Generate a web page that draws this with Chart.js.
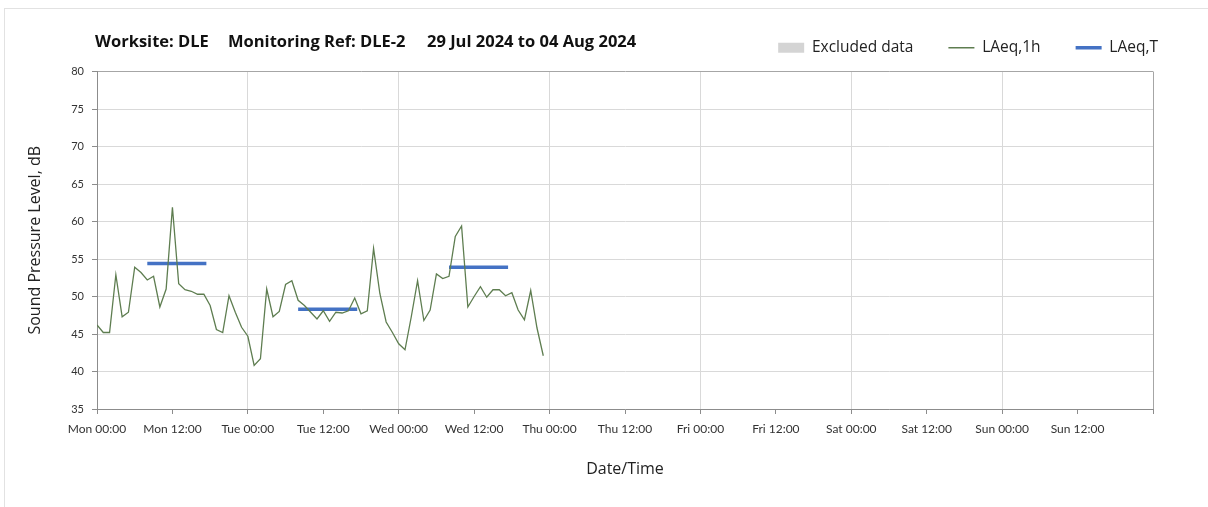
<!DOCTYPE html>
<html>
<head>
<meta charset="utf-8">
<script src="https://cdn.jsdelivr.net/npm/chart.js@4.4.1/dist/chart.umd.min.js"></script>
<style>
  html, body { margin: 0; padding: 0; background: #fff; overflow: hidden; }
  #frame { position: absolute; left: 4px; top: 8px; width: 1300px; height: 600px; border: 1px solid #e2e2e2; }
  #chart { position: absolute; left: 0; top: 0; }
</style>
</head>
<body>
<div id="frame"></div>
<canvas id="chart" width="1208" height="507"></canvas>
<script>
// hourly LAeq,1h from Mon 00:00 (hour 0) to Wed 23:00 (hour 71)
const laeq1h = [
  46.2, 45.2, 45.2, 52.9, 47.3, 47.9, 53.9, 53.2, 52.2, 52.7, 48.6, 51.0,
  61.9, 51.7, 50.9, 50.7, 50.3, 50.3, 48.8, 45.6, 45.2, 50.1, 47.9, 45.9,
  44.7, 40.8, 41.7, 51.0, 47.3, 48.0, 51.6, 52.1, 49.5, 48.8, 47.9, 47.0,
  48.1, 46.7, 47.9, 47.8, 48.1, 49.8, 47.7, 48.1, 56.4, 50.4, 46.6, 45.2,
  43.7, 42.9, 47.3, 52.1, 46.8, 48.2, 53.0, 52.4, 52.7, 58.0, 59.4, 48.6,
  50.0, 51.3, 49.9, 50.9, 50.9, 50.1, 50.5, 48.2, 46.9, 50.8, 45.8, 42.1
];

// LAeq,T daytime periods (hours from Mon 00:00)
const ltStart = [8, 32, 56];
const ltEnd = [17.4, 41.4, 65.4];
const ltValues = [54.4, 48.3, 53.9];

const xTickLabels = [
  "Mon 00:00", "Mon 12:00", "Tue 00:00", "Tue 12:00", "Wed 00:00", "Wed 12:00",
  "Thu 00:00", "Thu 12:00", "Fri 00:00", "Fri 12:00", "Sat 00:00", "Sat 12:00",
  "Sun 00:00", "Sun 12:00"
];
const titleParts = ["Worksite: DLE", "Monitoring Ref: DLE-2", "29 Jul 2024 to 04 Aug 2024"];

const FONT = "Lato, 'Open Sans', sans-serif";
const FONT2 = "'Open Sans', Lato, sans-serif";

let hourlyPoints = laeq1h.map((v, i) => ({ x: i, y: v }));
let ltPoints = [];
ltValues.forEach((v, i) => {
  ltPoints.push({ x: ltStart[i], y: v });
  ltPoints.push({ x: ltEnd[i], y: v });
  ltPoints.push({ x: ltEnd[i] + 1, y: null });
});

// title row drawn at the left of the legend row
const titlePlugin = {
  id: "titleRow",
  afterDraw(chart) {
    const c = chart.ctx;
    c.save();
    c.font = "bold 16.5px " + FONT2;
    c.fillStyle = "#111";
    c.textBaseline = "middle";
    const xs = [95, 228, 427];
    titleParts.forEach((t, i) => c.fillText(t, xs[i], 42));
    c.restore();
  }
};

// push the legend to the right and up so it sits on the title row
const legendPlace = {
  id: "legendPlace",
  afterLayout(chart) {
    const lg = chart.legend;
    const w = lg.right - lg.left;
    lg.right = 1193;
    lg.left = lg.right - w;
    const h = lg.bottom - lg.top;
    lg.top = lg.top - 6;
    lg.bottom = lg.top + h;
  }
};

const axisGrey = "#8c8c8c";
const gridGrey = "#d9d9d9";

let chart = new Chart(document.getElementById("chart").getContext("2d"), {
  type: "line",
  data: {
    datasets: [
      {
        label: "Excluded data",
        data: [],
        backgroundColor: "#d4d4d4",
        borderColor: "#d4d4d4",
        borderWidth: 0
      },
      {
        label: "LAeq,1h",
        data: hourlyPoints,
        borderColor: "#5e7d50",
        borderWidth: 1.3,
        pointRadius: 0,
        tension: 0,
        fill: false
      },
      {
        label: "LAeq,T",
        data: ltPoints,
        borderColor: "#4472c4",
        borderWidth: 3.5,
        pointRadius: 0,
        spanGaps: false,
        fill: false
      }
    ]
  },
  options: {
    responsive: false,
    animation: false,
    layout: { padding: { left: 5, right: 55, top: 11, bottom: 0 } },
    plugins: {
      tooltip: { enabled: false },
      legend: {
        position: "top",
        align: "end",
        labels: {
          usePointStyle: true,
          pointStyleWidth: 26,
          boxHeight: 10,
          padding: 35,
          color: "#222",
          font: { family: FONT2, size: 15.5 },
          generateLabels(chart) {
            return chart.data.datasets.map((ds, i) => ({
              text: ds.label,
              datasetIndex: i,
              fillStyle: ds.backgroundColor || ds.borderColor,
              strokeStyle: ds.borderColor,
              lineWidth: i === 0 ? 0 : ds.borderWidth,
              pointStyle: i === 0 ? "rect" : "line",
              fontColor: "#222",
              hidden: false
            }));
          }
        }
      }
    },
    scales: {
      x: {
        type: "linear",
        min: 0,
        max: 168,
        afterBuildTicks(scale) {
          let t = [];
          for (let v = 0; v <= 168; v += 12) t.push({ value: v });
          scale.ticks = t;
        },
        afterFit(scale) { scale.height = 98; },
        ticks: {
          autoSkip: false,
          maxRotation: 0,
          padding: 8,
          color: "#333",
          font: { family: FONT, size: 12 },
          callback: (v, i) => xTickLabels[i] || ""
        },
        grid: {
          color: (ctx) => {
            const v = ctx.tick ? ctx.tick.value : 0;
            if (v === 168) return "#a6a6a6";
            return v % 24 === 0 ? gridGrey : "rgba(0,0,0,0)";
          },
          tickColor: axisGrey,
          tickLength: 5,
          lineWidth: 1
        },
        border: { color: axisGrey },
        title: {
          display: true,
          text: "Date/Time",
          color: "#222",
          font: { family: FONT2, size: 16 },
          padding: { top: 4, bottom: 28 }
        }
      },
      y: {
        min: 35,
        max: 80,
        afterFit(scale) { scale.width = 92; },
        ticks: {
          stepSize: 5,
          padding: 8,
          color: "#333",
          font: { family: FONT, size: 11 }
        },
        grid: {
          color: (ctx) => (ctx.tick && ctx.tick.value === 80 ? "#a6a6a6" : gridGrey),
          tickColor: axisGrey,
          tickLength: 5
        },
        border: { color: axisGrey },
        title: {
          display: true,
          text: "Sound Pressure Level, dB",
          color: "#222",
          font: { family: FONT2, size: 16 },
          padding: { top: 21, bottom: 4 }
        }
      }
    }
  },
  plugins: [titlePlugin, legendPlace]
});
</script>
</body>
</html>
